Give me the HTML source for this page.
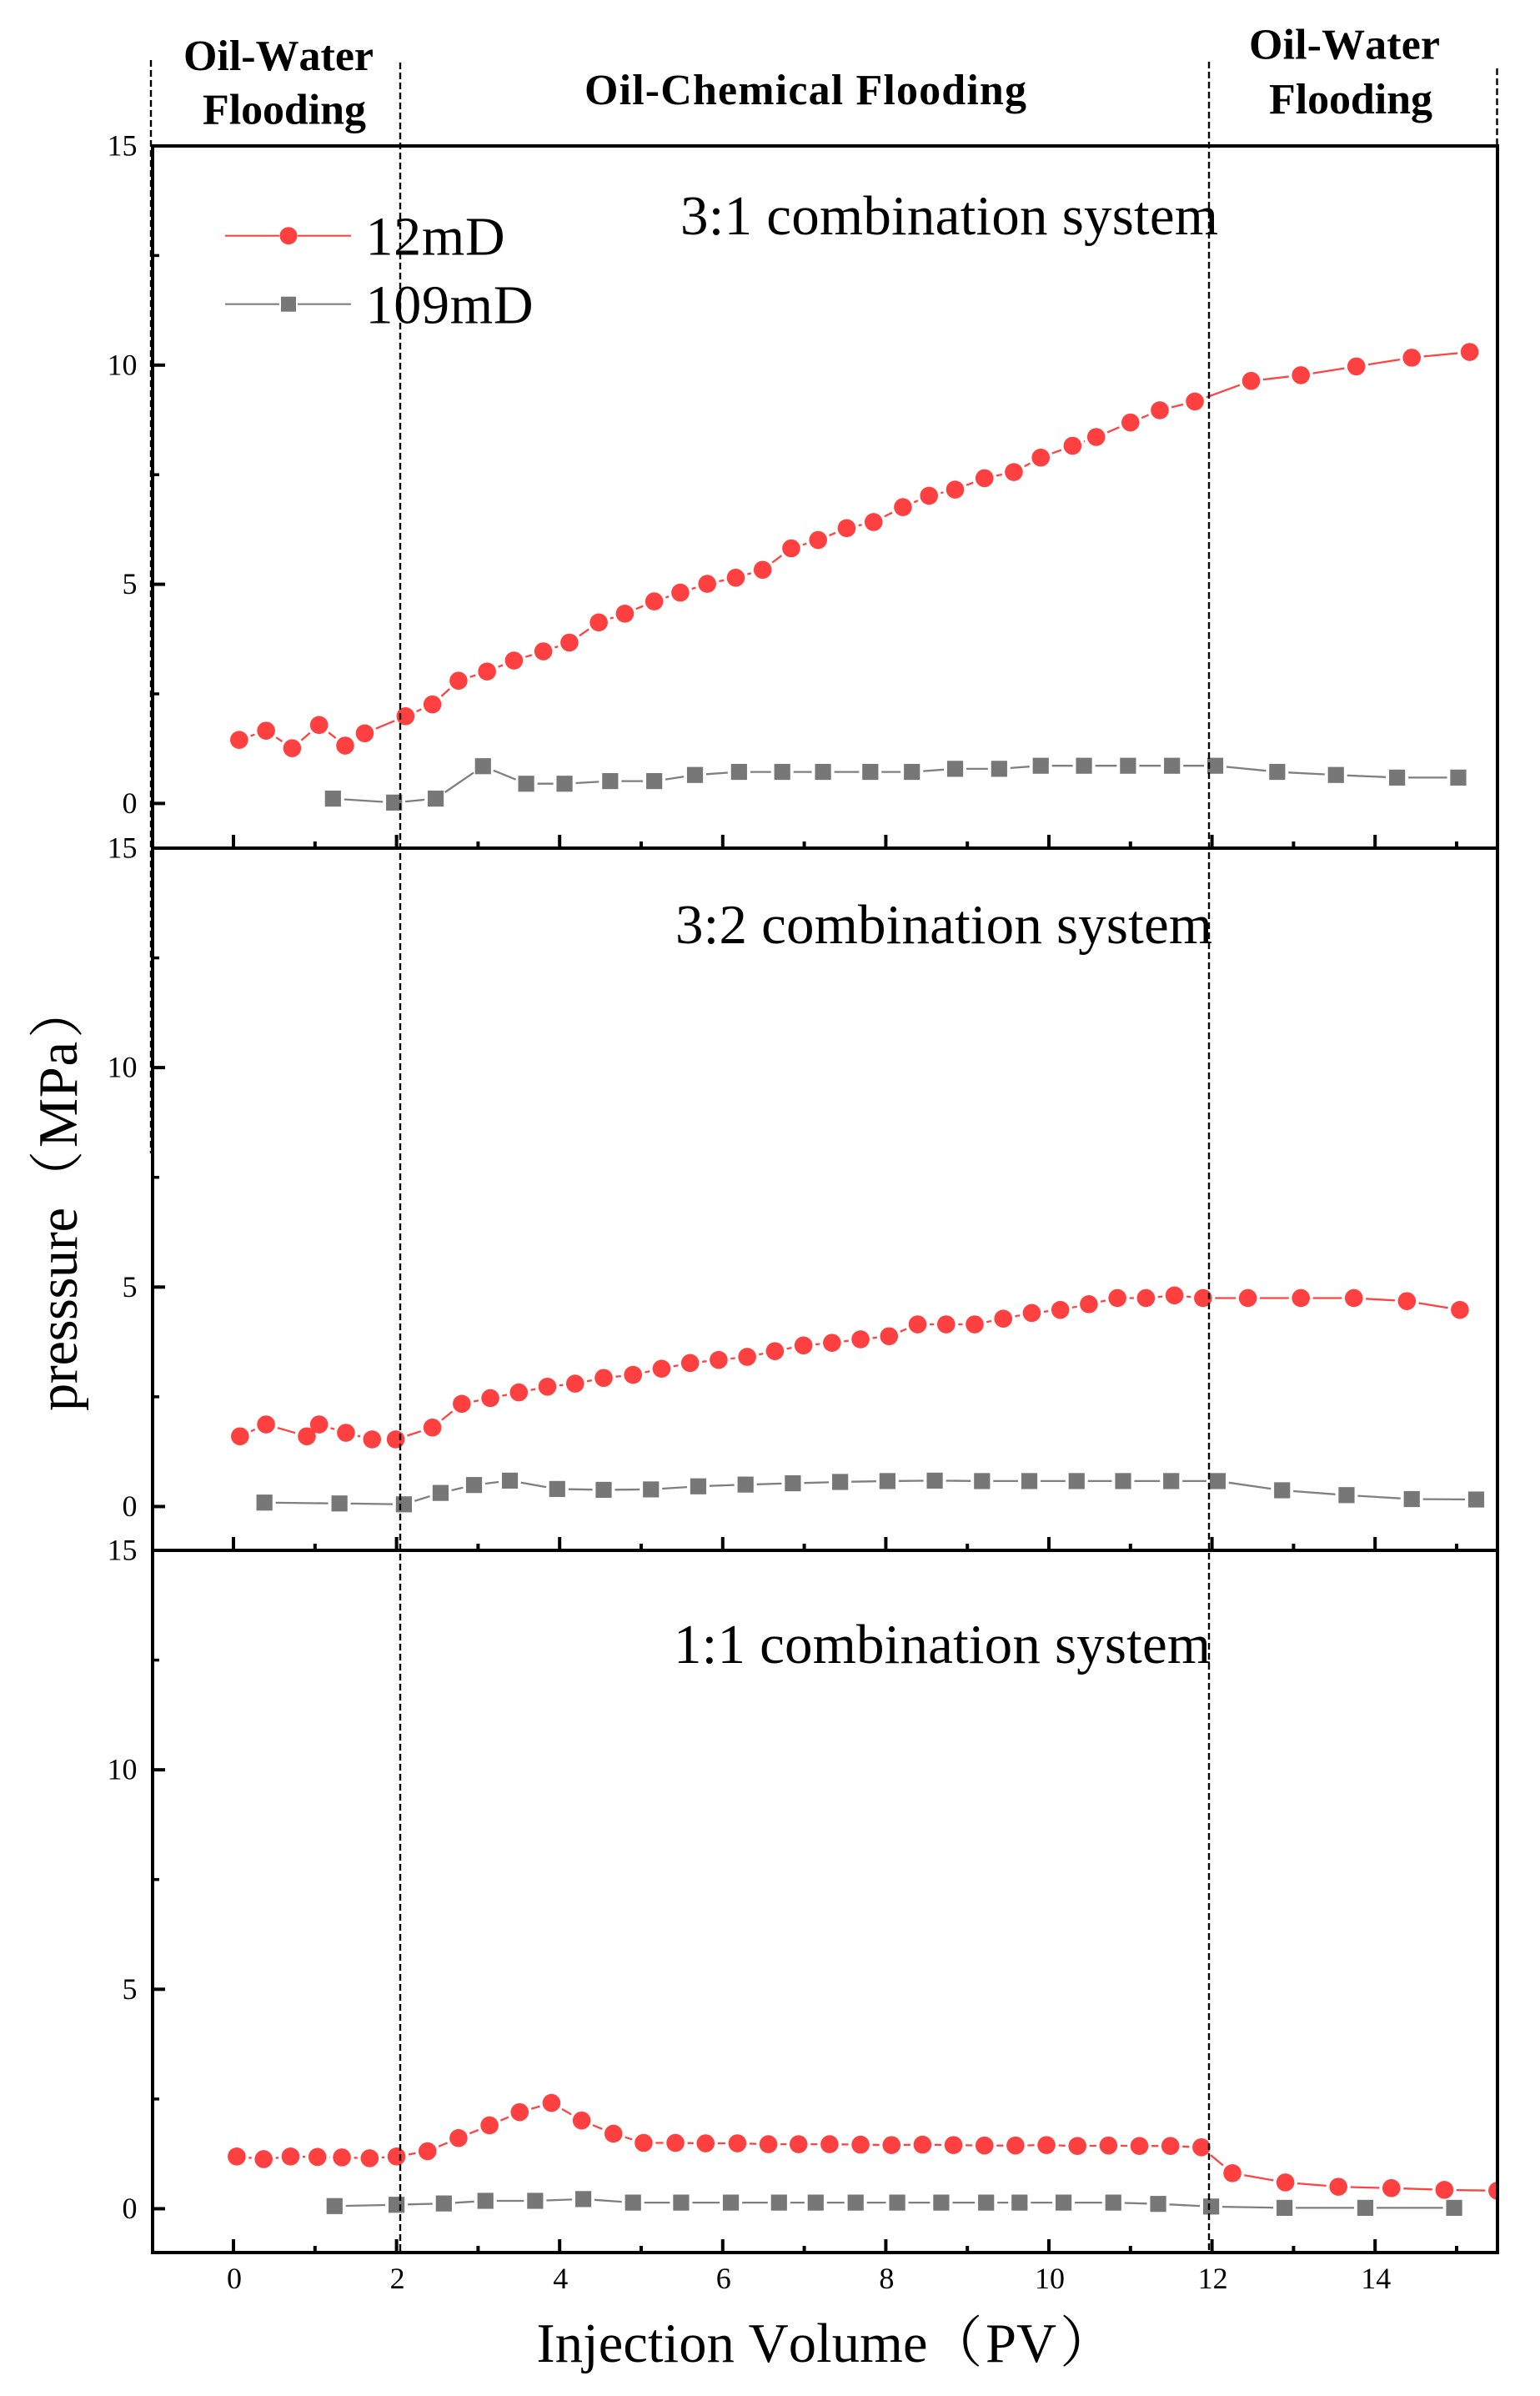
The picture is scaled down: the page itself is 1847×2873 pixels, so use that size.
<!DOCTYPE html>
<html lang="en">
<head>
<meta charset="utf-8">
<title>Pressure vs Injection Volume</title>
<style>
  html, body { margin: 0; padding: 0; background: #fff; }
  svg { display: block; }
  text { font-family: "Liberation Serif", "Noto Serif CJK SC", serif; fill: #000; font-kerning: none; }
</style>
</head>
<body>
<svg id="chart" xmlns="http://www.w3.org/2000/svg" width="1847" height="2873" viewBox="0 0 1847 2873">
  <rect x="0" y="0" width="1847" height="2873" fill="#fff"/>
  <defs>
    <clipPath id="plot-clip"><rect x="183" y="175" width="1613" height="2526"/></clipPath>
  </defs>
  <g id="panels"></g>

  <g>
    <g>
      <line x1="270" x2="335" y1="282.7" y2="282.7" stroke="#ff4242" stroke-width="2.2"/>
      <line x1="357" x2="421" y1="282.7" y2="282.7" stroke="#ff4242" stroke-width="2.2"/>
      <circle cx="346" cy="282.7" r="10.5" fill="#ff4040"/>
      <text x="438.5" y="305.5" font-size="66" textLength="167">12mD</text>
    </g>
    <g>
      <line x1="270" x2="335" y1="364.7" y2="364.7" stroke="#7f7f7f" stroke-width="2.2"/>
      <line x1="357" x2="421" y1="364.7" y2="364.7" stroke="#7f7f7f" stroke-width="2.2"/>
      <rect x="337" y="355.7" width="18" height="18" fill="#777"/>
      <text x="438.5" y="387.6" font-size="66" textLength="201">109mD</text>
    </g>
  </g>

  <text x="220" y="84" font-size="52" font-weight="bold" textLength="228">Oil-Water</text>
  <text x="243" y="148.5" font-size="52" font-weight="bold" textLength="196">Flooding</text>
  <text x="701" y="125" font-size="52" font-weight="bold" textLength="530">Oil-Chemical Flooding</text>
  <text x="1498" y="70.5" font-size="52" font-weight="bold" textLength="229">Oil-Water</text>
  <text x="1522" y="136" font-size="52" font-weight="bold" textLength="196">Flooding</text>

  <text x="816" y="281" font-size="67" textLength="645">3:1 combination system</text>
  <text x="810" y="1131" font-size="67" textLength="644">3:2 combination system</text>
  <text x="808" y="1994" font-size="67" textLength="644">1:1 combination system</text>

  <text transform="translate(92,1692) rotate(-90)" font-size="66.5"><tspan x="0" textLength="244">presssure</tspan><tspan x="246">（</tspan><tspan x="316" textLength="127">MPa</tspan><tspan x="447">）</tspan></text>
  <text y="2832" font-size="66.5"><tspan x="643.5" textLength="469">Injection Volume</tspan><tspan x="1112">（</tspan><tspan x="1182">PV</tspan><tspan x="1271">）</tspan></text>

  <g stroke="#000" stroke-width="2.4" stroke-dasharray="8 4" fill="none">
    <line x1="181" x2="181" y1="72" y2="1383"/>
    <line x1="480" x2="480" y1="75" y2="2700"/>
    <line x1="1450" x2="1450" y1="74" y2="2699"/>
    <line x1="1795.5" x2="1795.5" y1="82" y2="175"/>
  </g>
</svg>

<script>
// Axis tick values
const xMajorTicks = [0, 2, 4, 6, 8, 10, 12, 14];
const xMinorTicks = [1, 3, 5, 7, 9, 11, 13, 15];
const yMajorTicks = [0, 5, 10, 15];
const yMinorTicks = [2.5, 7.5, 12.5];

// Panel 1: 3:1 combination system
const p1RedX = [0.07,0.40,0.72,1.05,1.37,1.61,2.11,2.44,2.76,3.11,3.44,3.80,4.12,4.48,4.80,5.16,5.48,5.81,6.16,6.49,6.84,7.17,7.52,7.85,8.21,8.53,8.85,9.21,9.57,9.90,10.29,10.58,11.00,11.36,11.79,12.48,13.09,13.77,14.45,15.16];
const p1RedY = [1.45,1.66,1.26,1.79,1.32,1.60,1.99,2.26,2.80,3.01,3.26,3.47,3.67,4.13,4.33,4.61,4.81,5.01,5.15,5.33,5.82,6.01,6.28,6.42,6.76,7.02,7.16,7.42,7.56,7.89,8.16,8.36,8.69,8.97,9.17,9.64,9.77,9.97,10.17,10.30];
const p1GrayX = [1.22,1.97,2.48,3.06,3.59,4.06,4.62,5.16,5.66,6.20,6.73,7.23,7.81,8.32,8.85,9.39,9.90,10.43,10.97,11.51,12.04,12.80,13.52,14.27,15.02];
const p1GrayY = [0.11,0.02,0.11,0.85,0.45,0.45,0.51,0.51,0.65,0.72,0.72,0.72,0.72,0.72,0.79,0.79,0.86,0.86,0.86,0.86,0.86,0.72,0.65,0.59,0.59];

// Panel 2: 3:2 combination system
const p2RedX = [0.08,0.40,0.90,1.05,1.38,1.70,1.99,2.44,2.80,3.15,3.50,3.85,4.19,4.54,4.90,5.25,5.60,5.95,6.30,6.64,6.99,7.34,7.69,8.04,8.39,8.74,9.09,9.44,9.79,10.14,10.49,10.84,11.19,11.54,11.89,12.44,13.09,13.74,14.39,15.04];
const p2RedY = [1.60,1.87,1.60,1.87,1.68,1.53,1.53,1.80,2.34,2.47,2.60,2.73,2.80,2.93,3.00,3.14,3.27,3.34,3.41,3.54,3.67,3.73,3.81,3.88,4.15,4.15,4.15,4.28,4.41,4.48,4.61,4.75,4.75,4.81,4.75,4.75,4.75,4.75,4.68,4.48];
const p2GrayX = [0.38,1.30,2.09,2.54,2.95,3.39,3.97,4.54,5.12,5.70,6.28,6.86,7.44,8.02,8.60,9.18,9.76,10.34,10.91,11.50,12.07,12.86,13.65,14.45,15.24];
const p2GrayY = [0.09,0.07,0.05,0.31,0.49,0.59,0.40,0.38,0.39,0.46,0.50,0.53,0.56,0.58,0.59,0.58,0.58,0.58,0.58,0.58,0.58,0.37,0.26,0.17,0.16];

// Panel 3: 1:1 combination system
const p3RedX = [0.04,0.37,0.70,1.03,1.33,1.67,2.00,2.38,2.76,3.14,3.51,3.90,4.27,4.66,5.03,5.42,5.79,6.18,6.56,6.93,7.31,7.69,8.07,8.45,8.83,9.21,9.59,9.97,10.35,10.73,11.11,11.49,11.87,12.25,12.90,13.55,14.20,14.85,15.50];
const p3RedY = [1.19,1.13,1.19,1.18,1.17,1.15,1.19,1.31,1.61,1.90,2.20,2.41,2.01,1.71,1.50,1.50,1.49,1.49,1.47,1.47,1.47,1.46,1.45,1.46,1.45,1.44,1.44,1.45,1.43,1.44,1.43,1.43,1.40,0.81,0.60,0.50,0.47,0.43,0.41];
const p3GrayX = [1.24,2.00,2.58,3.09,3.70,4.29,4.90,5.49,6.10,6.69,7.14,7.63,8.14,8.68,9.23,9.64,10.18,10.79,11.34,11.99,12.89,13.88,14.97];
const p3GrayY = [0.06,0.09,0.12,0.18,0.18,0.22,0.14,0.14,0.14,0.14,0.14,0.14,0.14,0.14,0.14,0.14,0.14,0.14,0.11,0.05,0.02,0.02,0.02];

const NS = 'http://www.w3.org/2000/svg';
const root = document.getElementById('panels');
const LEFT = 183, RIGHT = 1796, PANEL_H = 842;
const panelTops = [175, 1017, 1859];

function xPx(v) { return 280 + v * 97.8; }
function yPx(top, v) {
  const unit = top === panelTops[0] ? 52.56 : 52.63;
  return top + (15 - v) * unit;
}

function make(tag, parent, props) {
  const el = document.createElementNS(NS, tag);
  for (const k in props) el.setAttribute(k, props[k]);
  parent.appendChild(el);
  return el;
}

function gappedPath(xs, ys, top, gap) {
  let d = '';
  for (let i = 0; i + 1 < xs.length; i++) {
    const ax = xPx(xs[i]), ay = yPx(top, ys[i]);
    const bx = xPx(xs[i + 1]), by = yPx(top, ys[i + 1]);
    const len = Math.hypot(bx - ax, by - ay);
    if (len <= gap * 2) continue;
    const ux = (bx - ax) / len, uy = (by - ay) / len;
    d += 'M' + (ax + ux * gap).toFixed(1) + ' ' + (ay + uy * gap).toFixed(1);
    d += 'L' + (bx - ux * gap).toFixed(1) + ' ' + (by - uy * gap).toFixed(1);
  }
  return d;
}

function drawSeries(parent, xs, ys, top, kind, label) {
  const g = make('g', parent, { 'clip-path': 'url(#plot-clip)' });
  
  
  const isRed = kind === 'red';
  const line = make('path', g, {
    d: gappedPath(xs, ys, top, isRed ? 14.5 : 13.5),
    fill: 'none',
    stroke: isRed ? '#ff4242' : '#7f7f7f',
    'stroke-width': 2.3
  });
  
  
  xs.forEach(function (x, i) {
    const px = xPx(x), py = yPx(top, ys[i]);
    let m;
    if (isRed) {
      m = make('circle', g, { cx: px, cy: py, r: 10.8, fill: '#ff4040' });
    } else {
      m = make('rect', g, { x: px - 9.6, y: py - 9.6, width: 19.2, height: 19.2, fill: '#777' });
    }
    
    
  });
}

function drawPanel(index, top, red, gray) {
  const g = make('g', root, {});
  
  
  const bottom = top + PANEL_H;

  drawSeries(g, red[0], red[1], top, 'red', '12md-panel-' + (index + 1));
  drawSeries(g, gray[0], gray[1], top, 'gray', '109md-panel-' + (index + 1));

  const frame = make('rect', g, {
    x: LEFT, y: top, width: RIGHT - LEFT, height: PANEL_H,
    fill: 'none', stroke: '#000', 'stroke-width': 4
  });
  
  

  yMajorTicks.forEach(function (v) {
    const y = yPx(top, v);
    const t = make('line', g, { x1: LEFT, x2: LEFT + 15, y1: y, y2: y, stroke: '#000', 'stroke-width': 4 });
    
    
    const lbl = make('text', g, { x: 164.5, y: y + 11.5, 'font-size': 36, 'text-anchor': 'end' });
    
    
    lbl.textContent = String(v);
  });
  yMinorTicks.forEach(function (v) {
    const y = yPx(top, v);
    const t = make('line', g, { x1: LEFT, x2: LEFT + 8, y1: y, y2: y, stroke: '#000', 'stroke-width': 3.5 });
    
    
  });

  xMajorTicks.forEach(function (v) {
    const x = xPx(v);
    const t = make('line', g, { x1: x, x2: x, y1: bottom, y2: bottom - 16, stroke: '#000', 'stroke-width': 4 });
    
    
    if (index === 2) {
      const lbl = make('text', g, { x: x + 1, y: 2744, 'font-size': 36, 'text-anchor': 'middle' });
      
      
      lbl.textContent = String(v);
    }
  });
  xMinorTicks.forEach(function (v) {
    const x = xPx(v);
    const t = make('line', g, { x1: x, x2: x, y1: bottom, y2: bottom - 8, stroke: '#000', 'stroke-width': 4 });
    
    
  });
}

drawPanel(0, panelTops[0], [p1RedX, p1RedY], [p1GrayX, p1GrayY]);
drawPanel(1, panelTops[1], [p2RedX, p2RedY], [p2GrayX, p2GrayY]);
drawPanel(2, panelTops[2], [p3RedX, p3RedY], [p3GrayX, p3GrayY]);
</script>
</body>
</html>
